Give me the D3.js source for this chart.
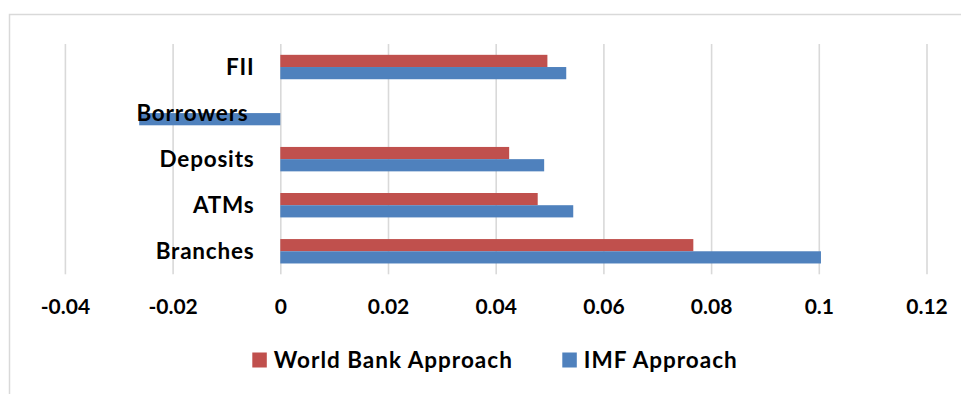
<!DOCTYPE html>
<html>
<head>
<meta charset="utf-8">
<script src="https://cdn.jsdelivr.net/npm/d3@7"></script>
<style>
  html, body { margin: 0; padding: 0; background: #fff; }
  svg { display: block; }
  text { font-family: Lato, "Open Sans", sans-serif; font-weight: bold; fill: #000; }
</style>
</head>
<body>
<svg id="chart" width="961" height="394"></svg>
<script>
const categories = ["FII", "Borrowers", "Deposits", "ATMs", "Branches"];
const seriesNames = ["World Bank Approach", "IMF Approach"];
const worldBank = [0.0496, 0, 0.0425, 0.0478, 0.0767];
const imf = [0.0531, -0.0262, 0.0490, 0.0544, 0.1004];
const xTicks = [-0.04, -0.02, 0, 0.02, 0.04, 0.06, 0.08, 0.1, 0.12];
const colors = ["#C0504D", "#4F81BD"];

const svg = d3.select("#chart");
const W = 961, H = 394;
const plot = { left: 64.9, right: 926.5, top: 44, bottom: 274.3 };

// chart area border
svg.append("rect")
  .attr("x", 9.5).attr("y", 14.5)
  .attr("width", W + 20).attr("height", H + 20)
  .attr("fill", "none").attr("stroke", "#d9d9d9").attr("stroke-width", 1.5);

const x = d3.scaleLinear().domain([xTicks[0], xTicks[xTicks.length - 1]]).range([plot.left, plot.right]);
const y = d3.scaleBand().domain(categories).range([plot.top, plot.bottom]).paddingInner(0.47).paddingOuter(0.235);
const y1 = d3.scaleBand().domain(seriesNames).range([0, y.bandwidth()]);

// gridlines
const grid = svg.append("g").attr("transform", `translate(0,${plot.bottom})`)
  .call(d3.axisBottom(x).tickValues(xTicks).tickSize(-(plot.bottom - plot.top)).tickFormat(""));
grid.select(".domain").remove();
grid.selectAll(".tick line").attr("stroke", "#d9d9d9").attr("stroke-width", 1.6);

// tick labels
const ax = svg.append("g").attr("transform", `translate(0,${plot.bottom})`)
  .call(d3.axisBottom(x).tickValues(xTicks).tickSize(0).tickPadding(0).tickFormat(d => String(d)));
ax.select(".domain").remove();
ax.selectAll(".tick text")
  .attr("y", 32).attr("dy", "0.35em")
  .style("font-size", "21px").style("font-family", "Lato, sans-serif").style("font-weight", "bold").attr("fill", "#000");

// bars
const rows = categories.map((c, i) => ({ cat: c, vals: [worldBank[i], imf[i]] }));
const groups = svg.append("g").selectAll("g").data(rows).join("g")
  .attr("transform", d => `translate(0,${y(d.cat)})`);
groups.selectAll("rect").data(d => d.vals.map((v, k) => ({ v, k }))).join("rect")
  .attr("x", d => x(Math.min(0, d.v)))
  .attr("width", d => Math.abs(x(d.v) - x(0)))
  .attr("y", d => y1(seriesNames[d.k]))
  .attr("height", y1.bandwidth())
  .attr("fill", d => colors[d.k]);

// category labels
svg.append("g").selectAll("text").data(categories).join("text")
  .attr("x", 254.5).attr("dx", d => d === "Borrowers" ? -6 : 0)
  .attr("y", d => y(d) + y.bandwidth() / 2).attr("dy", "0.35em")
  .attr("text-anchor", "end")
  .style("font-size", "22.5px").style("letter-spacing", "0.8px")
  .text(d => d);

// legend
const legendPos = [252.3, 562.3];
const lg = svg.append("g").selectAll("g").data(seriesNames).join("g")
  .attr("transform", (d, i) => `translate(${legendPos[i]},360)`);
lg.append("rect").attr("x", 0).attr("y", -7.5).attr("width", 14.5).attr("height", 15)
  .attr("fill", (d, i) => colors[i]);
lg.append("text").attr("x", 21.5).attr("y", 0).attr("dy", "0.35em")
  .style("font-size", "22.5px").style("letter-spacing", "1px").text(d => d);
</script>
</body>
</html>
